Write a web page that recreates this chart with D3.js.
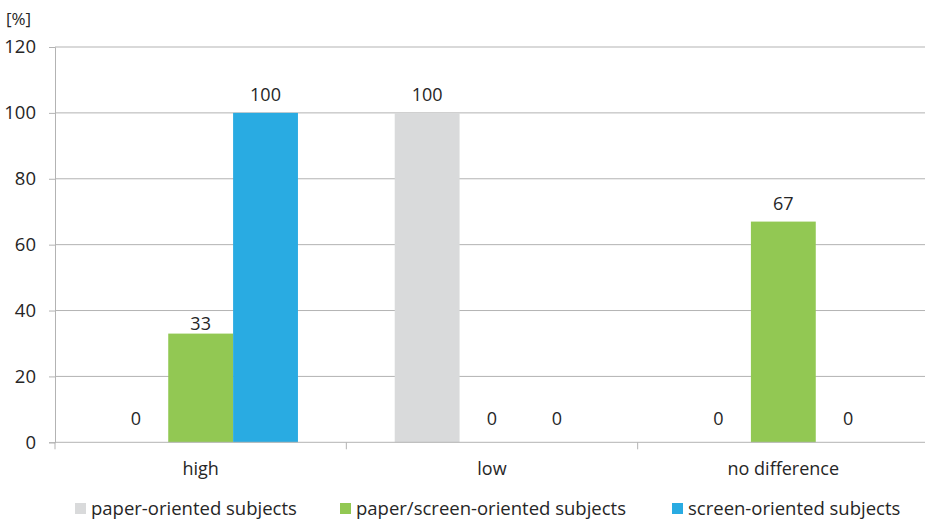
<!DOCTYPE html>
<html><head><meta charset="utf-8">
<script src="https://cdn.jsdelivr.net/npm/d3@7"></script>
<style>body{margin:0;background:#fff}svg{display:block}text{font-family:"Open Sans",sans-serif;fill:#262626}</style>
</head><body><svg id="c" width="925" height="520"></svg>
<script>
const categories = ["high", "low", "no difference"];
const seriesNames = ["paper-oriented subjects", "paper/screen-oriented subjects", "screen-oriented subjects"];
const paperValues = [0, 100, 0];
const paperScreenValues = [33, 0, 67];
const screenValues = [100, 0, 0];
const yTicks = [0, 20, 40, 60, 80, 100, 120];
const colors = ["#d9dadb", "#92c853", "#29abe2"];
const seriesValues = [paperValues, paperScreenValues, screenValues];

const svg = d3.select("#c");
const mLeft = 55, mRight = 929, mTop = 47, mBottom = 442.3;
const x0 = d3.scaleBand().domain(categories).range([mLeft, mRight]).padding(0);
const x1 = d3.scaleBand().domain(seriesNames).range([0, x0.bandwidth()]).paddingInner(0).paddingOuter(0.746);
const y = d3.scaleLinear().domain([0, 120]).range([mBottom, mTop]);

// grid
svg.append("g").selectAll("line").data(yTicks.filter(d => d > 0)).join("line")
  .attr("x1", mLeft).attr("x2", mRight).attr("y1", d => y(d)).attr("y2", d => y(d))
  .attr("stroke", "#b3b3b3").attr("stroke-width", 1);

// y axis
const ya = svg.append("g").attr("transform", `translate(${mLeft},0)`)
  .call(d3.axisLeft(y).tickValues(yTicks).tickSize(6).tickPadding(13));
ya.select(".domain").attr("stroke", "#b3b3b3");
ya.selectAll(".tick line").attr("stroke", "#b3b3b3");
ya.selectAll("text").style("font-size", "18.5px").style("font-family", "'Open Sans',sans-serif").attr("fill", "#262626");

// bars
const gridYs = yTicks.map(t => y(t));
categories.forEach((cat, ci) => {
  seriesNames.forEach((s, si) => {
    const v = seriesValues[si][ci];
    const bx = x0(cat) + x1(s);
    if (v > 0) {
      svg.append("rect").attr("x", bx).attr("width", x1.bandwidth())
        .attr("y", y(v)).attr("height", y(0) - y(v)).attr("fill", colors[si]);
    }
    let ly = v > 0 ? y(v) - 19 : y(0) - 24;
    // keep label off gridlines
    if (gridYs.some(g => Math.abs(g - ly) < 8)) ly = y(v) - 11;
    svg.append("text").attr("x", bx + x1.bandwidth() / 2)
      .attr("y", ly)
      .attr("text-anchor", "middle").attr("dominant-baseline", "central")
      .style("font-size", "18px").text(v);
  });
});

// x axis
const xa = svg.append("g").attr("transform", `translate(0,${mBottom})`);
xa.append("line").attr("x1", mLeft).attr("x2", mRight).attr("stroke", "#b3b3b3");
const xTickPos = categories.map(c => x0(c)).concat([mRight]);
xa.selectAll("line.t").data(xTickPos).join("line").attr("class", "t")
  .attr("x1", d => d).attr("x2", d => d).attr("y1", 0).attr("y2", 7).attr("stroke", "#b3b3b3");
xa.selectAll("text").data(categories).join("text")
  .attr("x", d => x0(d) + x0.bandwidth() / 2).attr("y", 26)
  .attr("text-anchor", "middle").attr("dominant-baseline", "central")
  .style("font-size", "18px").text(d => d);

// y unit
svg.append("text").attr("x", 6).attr("y", 18).attr("dominant-baseline", "central")
  .style("font-size", "17px").text("[%]");

// legend
const legendX = [75, 340, 672];
seriesNames.forEach((s, i) => {
  const g = svg.append("g").attr("transform", `translate(${legendX[i]},507)`);
  g.append("rect").attr("x", 0).attr("y", -4).attr("width", 11).attr("height", 11).attr("fill", colors[i]);
  g.append("text").attr("x", 16).attr("y", 0).attr("dominant-baseline", "central")
    .style("font-size", "18.5px").text(s);
});
</script></body></html>
